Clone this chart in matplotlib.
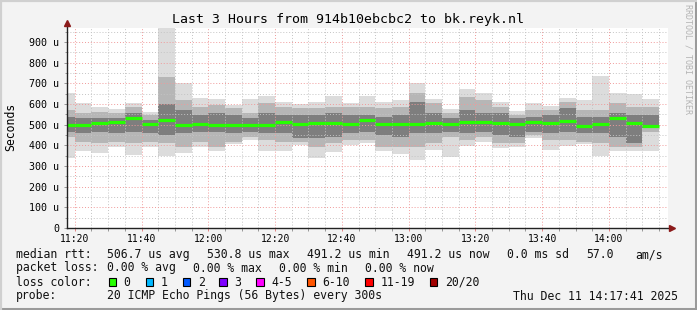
import matplotlib
matplotlib.use("Agg")
import matplotlib.pyplot as plt
from matplotlib.patches import Rectangle
from matplotlib.lines import Line2D

# 5 minute slots, first one starts 11:15 (minutes after 11:00)
first_slot = 15
slot_len = 5

# smoke: min / 10-90 band / 30-70 band / max, plus median (microseconds)
median = [500, 498, 510, 514, 531, 503, 524, 498, 503, 498, 498, 498,
          498, 513, 505, 508, 508, 503, 524, 503, 503, 503, 510, 503,
          514, 513, 508, 503, 513, 508, 519, 492, 503, 530.8, 508, 491.2]
hi = [653, 603, 587, 576, 603, 560, 990, 700, 627, 622, 595, 624,
      639, 608, 600, 608, 639, 603, 639, 608, 619, 700, 624, 576,
      672, 652, 608, 566, 603, 590, 627, 619, 735, 652, 647, 624]
lo = [338, 374, 361, 393, 353, 393, 348, 361, 393, 372, 405, 426,
      372, 372, 402, 340, 369, 402, 413, 374, 358, 329, 377, 345,
      398, 418, 389, 393, 434, 377, 398, 405, 350, 374, 372, 372]
mid_hi = [571, 555, 563, 555, 587, 547, 732, 619, 587, 595, 579, 555,
          603, 587, 579, 579, 587, 587, 587, 579, 587, 651, 603, 555,
          635, 619, 587, 547, 571, 571, 611, 571, 571, 603, 587, 587]
mid_lo = [442, 418, 410, 418, 410, 418, 410, 393, 418, 393, 418, 442,
          426, 418, 418, 393, 410, 426, 426, 393, 393, 393, 410, 442,
          426, 442, 410, 410, 450, 426, 426, 418, 410, 393, 393, 466]
core_hi = [539, 530, 530, 530, 555, 522, 600, 571, 547, 555, 547, 530,
           555, 547, 547, 547, 555, 547, 547, 539, 547, 611, 555, 530,
           571, 555, 555, 530, 539, 547, 579, 539, 539, 555, 547, 547]
core_lo = [466, 458, 466, 458, 466, 458, 450, 458, 466, 466, 458, 466,
           458, 458, 434, 434, 442, 458, 466, 450, 442, 458, 458, 466,
           458, 466, 450, 442, 466, 458, 466, 458, 458, 442, 410, 482]

x_ticks = [20, 40, 60, 80, 100, 120, 140, 160, 180]
x_labels = ["11:20", "11:40", "12:00", "12:20", "12:40", "13:00", "13:20", "13:40", "14:00"]
y_ticks = [0, 100, 200, 300, 400, 500, 600, 700, 800, 900]
y_labels = ["0", "100 u", "200 u", "300 u", "400 u", "500 u", "600 u", "700 u", "800 u", "900 u"]

loss_names = ["0", "1", "2", "3", "4-5", "6-10", "11-19", "20/20"]
loss_colors = ["#26ff00", "#00b8ff", "#0059ff", "#7e00ff", "#ff00ff", "#ff5500", "#ff0000", "#a10000"]

plt.rcParams["font.family"] = ["DejaVu Sans Mono"]

W, H = 697, 310
fig = plt.figure(figsize=(W / 100, H / 100), dpi=100, facecolor="#f3f3f3")

def px(x, y):
    return x / W, 1 - y / H

ax = fig.add_axes([67 / W, 1 - 228 / H, 601 / W, 200 / H])
ax.set_facecolor("white")
ax.set_xlim(17.683, 197.683)
ax.set_ylim(0, 967.6)

starts = [first_slot + slot_len * i for i in range(len(median))]
ends = [s + slot_len for s in starts]

def band(top, bottom, color):
    ax.bar(starts, [t - b for t, b in zip(top, bottom)], bottom=bottom,
           width=slot_len, align="edge", color=color, linewidth=0, zorder=1)

band(hi, lo, "#dcdcdc")
band(mid_hi, mid_lo, "#b6b6b6")
band(core_hi, core_lo, "#7e7e7e")
ax.hlines(median, starts, ends, colors=loss_colors[0], linewidth=2.3, zorder=3)

# grid
ax.set_xticks(x_ticks)
ax.set_xticklabels(x_labels)
ax.set_xticks(range(20, 198, 5), minor=True)
ax.set_yticks(y_ticks)
ax.set_yticklabels(y_labels)
ax.set_yticks(range(50, 968, 100), minor=True)
dot = (0, (1, 2))
ax.grid(which="minor", color="#c4c4c4", linestyle=dot, linewidth=0.7, zorder=2)
ax.grid(which="major", color="#f09a9a", linestyle=dot, linewidth=0.7, zorder=2)
ax.set_axisbelow(False)
for gl in ax.get_xgridlines() + ax.get_ygridlines():
    gl.set_zorder(2)
ax.tick_params(which="both", length=2, width=0.6, color="#888888", direction="out")
ax.tick_params(axis="x", which="major", labelsize=7, pad=2.5, color="#e07070")
ax.tick_params(axis="y", which="major", labelsize=7.2, pad=3.5)
ax.tick_params(axis="y", which="minor", length=1.5)
for s in ax.spines.values():
    s.set_visible(False)

# axes with arrows
fig.add_artist(Line2D([px(67, 0)[0]] * 2, [px(0, 228)[1], px(0, 23)[1]], color="#222222", lw=1))
fig.add_artist(Line2D([px(67, 0)[0], px(671, 0)[0]], [px(0, 228)[1]] * 2, color="#222222", lw=1))
fig.add_artist(Line2D([px(67, 0)[0]], [px(0, 23)[1]], marker="^", markersize=5, color="#8b1a1a", lw=0))
fig.add_artist(Line2D([px(672, 0)[0]], [px(0, 228)[1]], marker=">", markersize=5, color="#8b1a1a", lw=0))

fig.text(*px(348, 19), "Last 3 Hours from 914b10ebcbc2 to bk.reyk.nl", fontsize=9.5,
         ha="center", va="center")
fig.text(*px(11, 127), "Seconds", fontsize=8.3, rotation=90, ha="center", va="center")
fig.text(*px(688, 4), "RRDTOOL / TOBI OETIKER", fontsize=6, rotation=-90,
         ha="center", va="top", color="#b4b4b4")

fs = 8.3
def t(x, y, s):
    fig.text(*px(x, y), s, fontsize=fs, ha="left", va="center", color="#111111")

r1, r2, r3, r4 = 254.5, 268, 282, 296
t(16, r1, "median rtt:")
t(107, r1, "506.7 us avg")
t(207, r1, "530.8 us max")
t(307, r1, "491.2 us min")
t(407, r1, "491.2 us now")
t(507, r1, "0.0 ms sd")
t(586, r1, "57.0")
t(635, r1, "am/s")

t(16, r2, "packet loss:")
t(107, r2, "0.00 % avg")
t(193, r2, "0.00 % max")
t(279, r2, "0.00 % min")
t(365, r2, "0.00 % now")

t(16, r3, "loss color:")
box_x = [108.5, 145.7, 182.7, 219.3, 256, 307.3, 365.3, 429.7]
for bx, name, col in zip(box_x, loss_names, loss_colors):
    x0, y0 = px(bx, r3 + 4)
    fig.add_artist(Rectangle((x0, y0), 7.5 / W, 8 / H, facecolor=col,
                             edgecolor="black", linewidth=0.8))
    t(bx + 15, r3, name)

t(16, r4, "probe:")
t(107, r4, "20 ICMP Echo Pings (56 Bytes) every 300s")
t(513, r4, "Thu Dec 11 14:17:41 2025")

# frame
fig.add_artist(Line2D([0, 1], [px(0, 308.5)[1]] * 2, color="#9a9a9a", lw=2.2))
fig.add_artist(Line2D([px(695.5, 0)[0]] * 2, [0, 1], color="#9a9a9a", lw=2.2))
fig.add_artist(Line2D([0, 1], [px(0, 0.8)[1]] * 2, color="#d0d0d0", lw=1.6))
fig.add_artist(Line2D([px(0.8, 0)[0]] * 2, [0, 1], color="#d0d0d0", lw=1.6))

fig.savefig("out.png", dpi=100, facecolor=fig.get_facecolor())
